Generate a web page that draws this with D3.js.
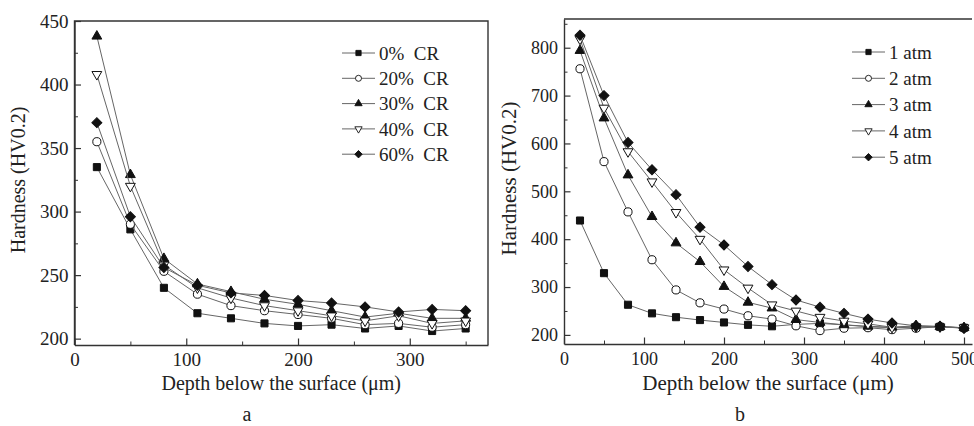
<!DOCTYPE html>
<html>
<head>
<meta charset="utf-8">
<script src="https://cdn.jsdelivr.net/npm/d3@7"></script>
<style>
  body { margin: 0; background: #fff; }
  svg { display: block; }
  text { font-family: "Liberation Serif", "Times New Roman", serif; fill: #222; }
</style>
</head>
<body>
<svg width="974" height="426"></svg>
<script>
// panel a: hardness vs depth for different cold-rolling reductions
const depthA = [20, 50, 80, 110, 140, 170, 200, 230, 260, 290, 320, 350];
const labelsA = ["0%  CR", "20%  CR", "30%  CR", "40%  CR", "60%  CR"];
const cr0 = [335, 286, 240, 220, 216, 212, 210, 211, 208, 210, 206, 208];
const cr20 = [355, 290, 253, 235, 226, 222, 219, 216, 211, 212, 209, 211];
const cr30 = [438, 329, 263, 243, 237, 231, 227, 222, 217, 220, 216, 216];
const cr40 = [408, 320, 258, 240, 232, 226, 222, 218, 214, 218, 212, 214];
const cr60 = [370, 296, 256, 242, 236, 234, 230, 228, 225, 221, 223, 222];
const xTicksA = [0, 100, 200, 300];
const yTicksA = [200, 250, 300, 350, 400, 450];

// panel b: hardness vs depth for different nitriding pressures
const depthB = [20, 50, 80, 110, 140, 170, 200, 230, 260, 290, 320, 350, 380, 410, 440, 470, 500];
const labelsB = ["1 atm", "2 atm", "3 atm", "4 atm", "5 atm"];
const atm1 = [439, 329, 263, 245, 237, 231, 226, 221, 218, 222, 224, 221, 217, 215, 216, 217, 215];
const atm2 = [756, 562, 457, 357, 294, 267, 254, 240, 233, 219, 209, 214, 215, 211, 214, 217, 214];
const atm3 = [794, 653, 534, 447, 392, 353, 301, 268, 256, 232, 226, 221, 218, 216, 219, 217, 215];
const atm4 = [818, 674, 583, 520, 456, 400, 336, 298, 263, 250, 237, 229, 223, 216, 217, 217, 215];
const atm5 = [826, 700, 602, 545, 493, 425, 388, 343, 305, 273, 258, 245, 233, 225, 219, 218, 214];
const xTicksB = [0, 100, 200, 300, 400, 500];
const yTicksB = [200, 300, 400, 500, 600, 700, 800];

// marker styles shared by both panels (same order as the series)
const markers = [
  { type: d3.symbolSquare, fill: "#111", rot: 0, size: 50 },
  { type: d3.symbolCircle, fill: "#fff", rot: 0, size: 52 },
  { type: d3.symbolTriangle, fill: "#111", rot: 0, size: 42 },
  { type: d3.symbolTriangle, fill: "#fff", rot: 180, size: 42 },
  { type: d3.symbolSquare, fill: "#111", rot: 45, size: 50 }
];

const svg = d3.select("svg");

function drawPanel(p) {
  const x = d3.scaleLinear().domain(p.xDomain).range(p.xRange),
    y = d3.scaleLinear().domain(p.yDomain).range(p.yRange);
  const g = svg.append("g");

  // frame
  g.append("path")
    .attr("d", p.frameRight
      ? `M${p.xRange[0]},${p.yRange[0]}V${p.yRange[1]}H${p.xRange[1]}V${p.yRange[0]}`
      : `M${p.xRange[0]},${p.yRange[1]}H${p.xRange[1]}`)
    .attr("fill", "none")
    .attr("stroke", "#333")
    .attr("stroke-width", 1.4);

  // minor ticks
  g.append("g")
    .attr("transform", `translate(0,${p.yRange[0]})`)
    .call(d3.axisBottom(x).tickValues(p.xMinor).tickSize(-3.5).tickFormat(""))
    .call(a => a.select(".domain").remove());
  g.append("g")
    .attr("transform", `translate(${p.xRange[0]},0)`)
    .call(d3.axisLeft(y).tickValues(p.yMinor).tickSize(-3.5).tickFormat(""))
    .call(a => a.select(".domain").remove());

  // major axes, ticks pointing inward
  const xa = g.append("g")
    .attr("transform", `translate(0,${p.yRange[0]})`)
    .call(d3.axisBottom(x).tickValues(p.xTicks).tickSize(-6.5).tickSizeOuter(0).tickPadding(8));
  const ya = g.append("g")
    .attr("transform", `translate(${p.xRange[0]},0)`)
    .call(d3.axisLeft(y).tickValues(p.yTicks).tickSize(-6.5).tickSizeOuter(0).tickPadding(6));
  [xa, ya].forEach(a => {
    a.select(".domain").attr("stroke", "#333").attr("stroke-width", 1.4);
    a.selectAll(".tick line").attr("stroke", "#333").attr("stroke-width", 1.2);
    a.selectAll(".tick text")
      .attr("font-size", p.tickFont)
      .attr("font-family", "Liberation Serif")
      .attr("fill", "#222");
  });
  g.selectAll(".tick line").attr("stroke", "#333");

  // axis titles
  g.append("text")
    .attr("x", (p.xRange[0] + p.xRange[1]) / 2)
    .attr("y", p.xTitleY)
    .attr("text-anchor", "middle")
    .attr("font-size", p.titleFont)
    .text("Depth below the surface (\u03bcm)");
  g.append("text")
    .attr("transform", `translate(${p.yTitleX},${(p.yRange[0] + p.yRange[1]) / 2 - 3}) rotate(-90)`)
    .attr("text-anchor", "middle")
    .attr("font-size", p.titleFont)
    .text("Hardness (HV0.2)");
  g.append("text")
    .attr("x", p.tagX)
    .attr("y", 421)
    .attr("text-anchor", "middle")
    .attr("font-size", 20)
    .text(p.tag);

  // series
  const line = d3.line().x(d => x(d[0])).y(d => y(d[1]));
  p.series.forEach((vals, i) => {
    const pts = p.depth.map((d, j) => [d, vals[j]]);
    g.append("path")
      .datum(pts)
      .attr("d", line)
      .attr("fill", "none")
      .attr("stroke", "#666")
      .attr("stroke-width", 1);
    const m = markers[i];
    g.selectAll(null)
      .data(pts)
      .enter()
      .append("path")
      .attr("d", d3.symbol().type(m.type).size(m.size))
      .attr("transform", d => `translate(${x(d[0])},${y(d[1])}) rotate(${m.rot})`)
      .attr("fill", m.fill)
      .attr("stroke", "#111")
      .attr("stroke-width", 1);
  });

  // legend
  const lg = g.append("g").attr("transform", `translate(${p.legendX},${p.legendY})`);
  p.labels.forEach((name, i) => {
    const row = lg.append("g").attr("transform", `translate(0,${i * p.legendStep})`);
    row.append("line").attr("x1", 0).attr("x2", 33).attr("y1", 0).attr("y2", 0)
      .attr("stroke", "#666").attr("stroke-width", 1);
    const m = markers[i];
    row.append("path")
      .attr("d", d3.symbol().type(m.type).size(m.size * 0.55))
      .attr("transform", `translate(16.5,0) rotate(${m.rot})`)
      .attr("fill", m.fill)
      .attr("stroke", "#111")
      .attr("stroke-width", 0.9);
    row.append("text")
      .attr("x", 37)
      .attr("y", 0)
      .attr("dy", "0.35em")
      .attr("font-size", 19)
      .style("white-space", "pre")
      .text(name);
  });
}

drawPanel({
  depth: depthA,
  series: [cr0, cr20, cr30, cr40, cr60],
  labels: labelsA,
  xDomain: [0, 370], xRange: [74.5, 488],
  yDomain: [195, 450], yRange: [345, 21],
  xTicks: xTicksA, xMinor: [50, 150, 250, 350],
  yTicks: yTicksA, yMinor: [225, 275, 325, 375, 425],
  frameRight: true,
  tickFont: 19, titleFont: 20,
  xTitleY: 390, yTitleX: 25, tag: "a", tagX: 247,
  legendX: 342, legendY: 53, legendStep: 25.3
});

drawPanel({
  depth: depthB,
  series: [atm1, atm2, atm3, atm4, atm5],
  labels: labelsB,
  xDomain: [0, 510], xRange: [564, 972],
  yDomain: [181, 860], yRange: [344, 19],
  xTicks: xTicksB, xMinor: [50, 150, 250, 350, 450],
  yTicks: yTicksB, yMinor: [250, 350, 450, 550, 650, 750, 850],
  frameRight: false,
  tickFont: 18, titleFont: 21,
  xTitleY: 390, yTitleX: 516, tag: "b", tagX: 740,
  legendX: 852, legendY: 52, legendStep: 26.3
});
</script>
</body>
</html>
